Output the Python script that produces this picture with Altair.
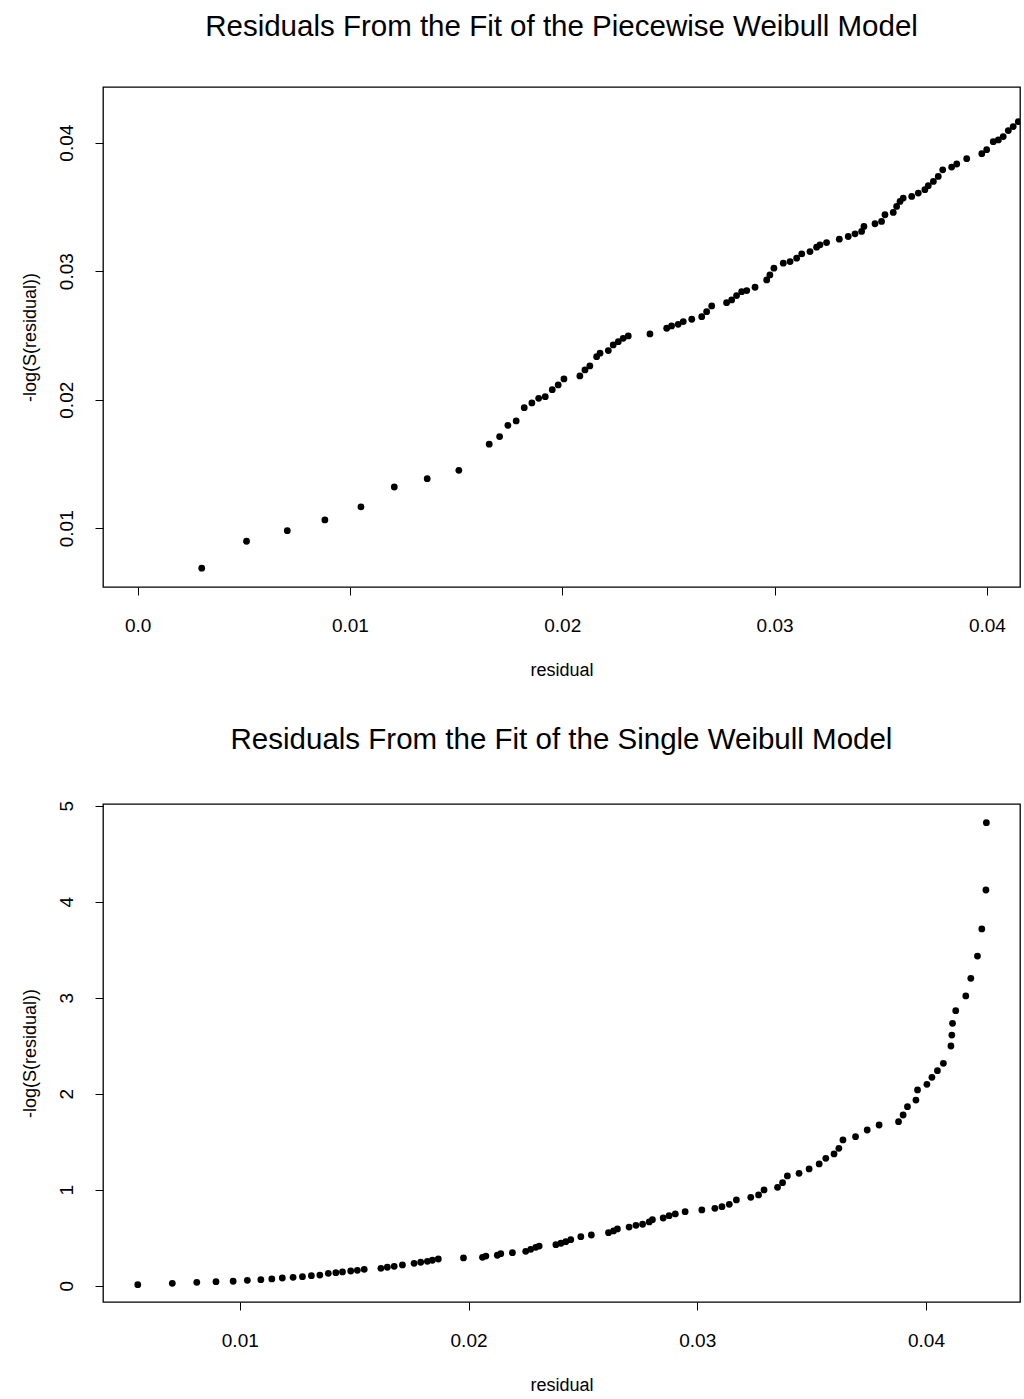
import altair as alt
import pandas as pd

# ---- data ----
top_x = [0.00302, 0.00513, 0.00705, 0.00882, 0.01052, 0.01209, 0.01364, 0.01513,
         0.01656, 0.01705, 0.01744, 0.01783, 0.01821, 0.01857, 0.01889, 0.01920,
         0.01953, 0.01981, 0.02008, 0.02083, 0.02107, 0.02130, 0.02162, 0.02178,
         0.02217, 0.02240, 0.02264, 0.02287, 0.02311, 0.02413, 0.02492, 0.02515,
         0.02546, 0.02570, 0.02610, 0.02657, 0.02680, 0.02704, 0.02774, 0.02798,
         0.02821, 0.02845, 0.02869, 0.02908, 0.02963, 0.02978, 0.02997, 0.03041,
         0.03073, 0.03104, 0.03128, 0.03167, 0.03198, 0.03214, 0.03245, 0.03305,
         0.03347, 0.03379, 0.03410, 0.03421, 0.03473, 0.03504, 0.03520, 0.03559,
         0.03575, 0.03591, 0.03606, 0.03646, 0.03677, 0.03708, 0.03724, 0.03748,
         0.03771, 0.03792, 0.03834, 0.03858, 0.03905, 0.03976, 0.03999, 0.04030,
         0.04054, 0.04077, 0.04101, 0.04124, 0.04148]
top_y = [0.00689, 0.00899, 0.00981, 0.01065, 0.01166, 0.01321, 0.01386, 0.01451,
         0.01654, 0.01713, 0.01801, 0.01835, 0.01938, 0.01975, 0.02011, 0.02024,
         0.02078, 0.02115, 0.02162, 0.02185, 0.02232, 0.02263, 0.02335, 0.02362,
         0.02382, 0.02426, 0.02452, 0.02478, 0.02496, 0.02512, 0.02556, 0.02574,
         0.02587, 0.02608, 0.02626, 0.02646, 0.02685, 0.02730, 0.02755, 0.02776,
         0.02810, 0.02841, 0.02849, 0.02875, 0.02932, 0.02971, 0.03023, 0.03062,
         0.03075, 0.03101, 0.03135, 0.03153, 0.03187, 0.03205, 0.03223, 0.03249,
         0.03270, 0.03291, 0.03309, 0.03348, 0.03369, 0.03387, 0.03439, 0.03457,
         0.03504, 0.03543, 0.03569, 0.03582, 0.03608, 0.03634, 0.03665, 0.03698,
         0.03737, 0.03789, 0.03810, 0.03834, 0.03875, 0.03914, 0.03945, 0.04008,
         0.04021, 0.04047, 0.04094, 0.04125, 0.04163]

bot_x = [0.00554, 0.00705, 0.00812, 0.00896, 0.00971, 0.01033, 0.01092, 0.01140,
         0.01186, 0.01233, 0.01274, 0.01313, 0.01350, 0.01387, 0.01420, 0.01449,
         0.01485, 0.01514, 0.01544, 0.01617, 0.01645, 0.01675, 0.01711, 0.01762,
         0.01791, 0.01820, 0.01842, 0.01868, 0.01978, 0.02061, 0.02076, 0.02126,
         0.02141, 0.02192, 0.02250, 0.02272, 0.02294, 0.02309, 0.02382, 0.02404,
         0.02425, 0.02447, 0.02491, 0.02537, 0.02612, 0.02634, 0.02651, 0.02702,
         0.02732, 0.02761, 0.02790, 0.02804, 0.02851, 0.02877, 0.02904, 0.02947,
         0.03020, 0.03077, 0.03108, 0.03140, 0.03171, 0.03234, 0.03268, 0.03292,
         0.03351, 0.03373, 0.03394, 0.03445, 0.03489, 0.03533, 0.03562, 0.03598,
         0.03619, 0.03637, 0.03692, 0.03743, 0.03795, 0.03880, 0.03900, 0.03919,
         0.03956, 0.03963, 0.04004, 0.04026, 0.04050, 0.04076, 0.04109, 0.04113,
         0.04116, 0.04130, 0.04174, 0.04196, 0.04225, 0.04244, 0.04262, 0.04264]
bot_y = [0.010, 0.025, 0.035, 0.042, 0.046, 0.056, 0.063, 0.070,
         0.080, 0.087, 0.094, 0.104, 0.111, 0.129, 0.135, 0.143,
         0.153, 0.160, 0.171, 0.181, 0.192, 0.202, 0.216, 0.233,
         0.244, 0.254, 0.265, 0.278, 0.289, 0.296, 0.309, 0.317,
         0.333, 0.344, 0.358, 0.379, 0.400, 0.413, 0.427, 0.442,
         0.458, 0.479, 0.510, 0.528, 0.552, 0.570, 0.591, 0.611,
         0.629, 0.640, 0.664, 0.688, 0.705, 0.729, 0.747, 0.771,
         0.789, 0.806, 0.823, 0.848, 0.893, 0.921, 0.945, 0.997,
         1.025, 1.073, 1.143, 1.171, 1.216, 1.268, 1.327, 1.372,
         1.431, 1.518, 1.552, 1.622, 1.674, 1.708, 1.778, 1.865,
         1.934, 2.039, 2.098, 2.171, 2.240, 2.317, 2.497, 2.611,
         2.733, 2.865, 3.018, 3.202, 3.434, 3.716, 4.122, 4.823]

titles = ["Residuals From the Fit of the Piecewise Weibull Model",
          "Residuals From the Fit of the Single Weibull Model"]
x_label = "residual"
y_label = "-log(S(residual))"

top_xticks = [0.0, 0.01, 0.02, 0.03, 0.04]
top_yticks = [0.01, 0.02, 0.03, 0.04]
bot_xticks = [0.01, 0.02, 0.03, 0.04]
bot_yticks = [0, 1, 2, 3, 4, 5]

FONT = "Liberation Sans"


def panel(xs, ys, title, xdom, ydom, xticks, yticks, xexpr, yexpr, h):
    df = pd.DataFrame({"x": xs, "y": ys})
    return (
        alt.Chart(
            df,
            title=alt.TitleParams(
                title, fontSize=29.5, font=FONT, fontWeight="normal",
                offset=22, baseline="alphabetic", anchor="middle", color="black",
            ),
        )
        .mark_circle(size=46, color="black", opacity=1, clip=True)
        .encode(
            x=alt.X("x:Q",
                    scale=alt.Scale(domain=xdom, nice=False, zero=False),
                    axis=alt.Axis(values=xticks, labelExpr=xexpr, title=x_label,
                                  labelPadding=21, titlePadding=26)),
            y=alt.Y("y:Q",
                    scale=alt.Scale(domain=ydom, nice=False, zero=False),
                    axis=alt.Axis(values=yticks, labelExpr=yexpr, title=y_label,
                                  labelAngle=270, labelAlign="center",
                                  labelBaseline="bottom", labelPadding=19,
                                  titlePadding=18)),
        )
        .properties(width=917, height=h)
    )


top = panel(top_x, top_y, titles[0], [-0.00163, 0.04156], [0.00543, 0.04433],
            top_xticks, top_yticks,
            "datum.value == 0 ? '0.0' : format(datum.value, '.2f')",
            "format(datum.value, '.2f')", 500)
bot = panel(bot_x, bot_y, titles[1], [0.00402, 0.04411], [-0.17, 5.018],
            bot_xticks, bot_yticks,
            "format(datum.value, '.2f')",
            "format(datum.value, 'd')", 498)

chart = (
    alt.vconcat(top, bot, spacing=44)
    .properties(padding={"left": 20, "top": 10, "right": 0, "bottom": 0},
                background="white")
    .configure_view(stroke="black", strokeWidth=1.3)
    .configure_axis(
        domain=False, grid=False, ticks=True, tickColor="black", tickSize=8,
        tickWidth=1, labelFont=FONT, labelFontSize=19, labelColor="black",
        titleFont=FONT, titleFontSize=18, titleFontWeight="normal",
        titleColor="black",
    )
)

chart.save("out.html", embed_options={"renderer": "svg", "actions": False})
